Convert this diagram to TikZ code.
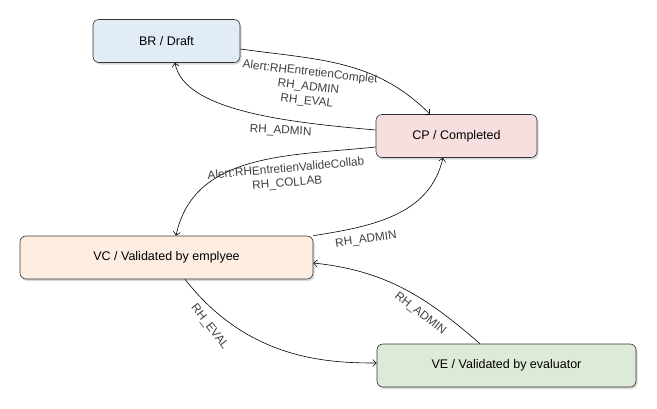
\documentclass[tikz,border=0pt]{standalone}
\usepackage{fontspec}
\setmainfont{Liberation Sans}
\usetikzlibrary{positioning,arrows.meta,shadows}

\definecolor{brfill}{HTML}{E1ECF7}
\definecolor{cpfill}{HTML}{F8DFDF}
\definecolor{vcfill}{HTML}{FDEEE1}
\definecolor{vefill}{HTML}{DDEBD6}

\tikzset{
  stat/.style={draw=black!80, rounded corners=6pt, minimum height=43pt,
    font=\fontsize{12.5}{14}\selectfont,
    drop shadow={shadow xshift=1.5pt, shadow yshift=-2pt, opacity=0.3}},
  lbl/.style={font=\fontsize{11.8}{14.5}\selectfont, text=black!75,
    align=center, inner sep=0pt},
}

\begin{document}
\begin{tikzpicture}[->,x=1pt,y=-1pt,on grid,semithick,
      >={Straight Barb[length=3.5pt,width=7pt]}]
  \useasboundingbox (0,0) rectangle (657,408);
			\node[stat, fill=brfill, minimum width=147pt] (br) at (166.5,41) {BR / Draft};
			\node[stat, fill=cpfill, minimum width=161pt] (cp) [below right=95pt and 290pt of br] {CP / Completed};
			\node[stat, fill=vcfill, minimum width=293pt] (vc) [below=216.5pt of br] {VC / Validated by emplyee};
			\node[stat, fill=vefill, minimum width=259pt] (ve) [below right=108pt and 340pt of vc] {VE / Validated by evaluator};
			\path
				([yshift=-8pt]br.east) edge[out=-8, in=135]
					node[lbl, xshift=-35pt, yshift=-22pt, rotate=-6.5] {Alert:RHEntretienComplet\\RH\_ADMIN\\RH\_EVAL}
					([xshift=-26.5pt]cp.north)
				([yshift=6pt]cp.west) edge[out=175, in=-80, out looseness=1, in looseness=0.6]
					node[lbl, xshift=33pt, yshift=-19pt, rotate=-3] {RH\_ADMIN}
					([xshift=8.5pt]br.south)
				([yshift=-11pt]cp.west) edge[out=186, in=78]
					node[lbl, xshift=36pt, yshift=-13pt, rotate=5] {Alert:RHEntretienValideCollab\\RH\_COLLAB}
					([xshift=9.5pt]vc.north)
				(vc.north east) edge[out=9, in=-103]
					node[lbl, xshift=-29pt, yshift=-25pt, rotate=8] {RH\_ADMIN}
					([xshift=-13.5pt]cp.south)
				([xshift=18.5pt]vc.south) edge[out=-52, in=180, out looseness=1.25, in looseness=0.6]
					node[lbl, pos=0.2, xshift=-15pt, yshift=-8pt, rotate=-52] {RH\_EVAL}
					([yshift=2.5pt]ve.west)
				([xshift=-26.5pt]ve.north) edge[out=139, in=-6]
					node[lbl, xshift=17pt, yshift=-25.5pt, rotate=-38] {RH\_ADMIN}
					([yshift=-5.5pt]vc.east);
		\end{tikzpicture}
\end{document}
